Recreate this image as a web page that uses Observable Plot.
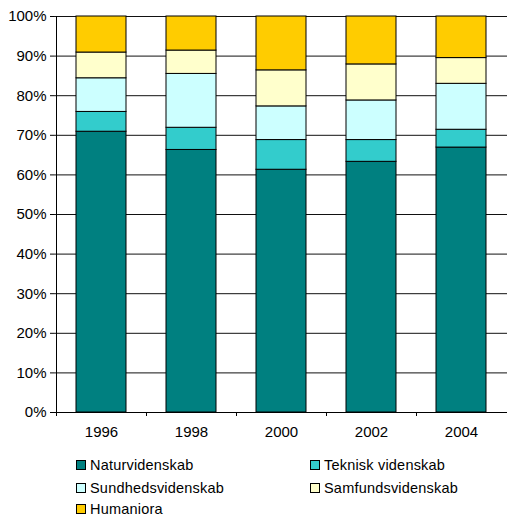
<!DOCTYPE html>
<html><head><meta charset="utf-8">
<script src="https://cdn.jsdelivr.net/npm/d3@7"></script>
<script src="https://cdn.jsdelivr.net/npm/@observablehq/plot@0.6"></script>
<style>
body{margin:0;background:#fff;font-family:"Liberation Sans",Arial,sans-serif;}
#wrap{position:relative;width:507px;height:517px;overflow:hidden}
.item{position:absolute;font-size:14.5px;line-height:14px;height:14px;color:#000;white-space:nowrap;display:flex;align-items:center;letter-spacing:0.2px}
.sw{width:8px;height:8px;border:1px solid #000;margin-right:4px;flex:none}
</style></head><body><div id="wrap"></div>
<script>
const years = ["1996","1998","2000","2002","2004"];
const fields = ["Naturvidenskab","Teknisk videnskab","Sundhedsvidenskab","Samfundsvidenskab","Humaniora"];
const colors = ["#008080","#33CCCC","#CCFFFF","#FFFFCC","#FFCC00"];
const natur = [70.9,66.3,61.3,63.3,66.9];
const teknisk = [5.0,5.6,7.5,5.5,4.5];
const sundhed = [8.5,13.6,8.5,10.0,11.6];
const samfund = [6.5,5.9,9.1,9.1,6.5];
const humaniora = [9.1,8.6,13.6,12.1,10.5];
const yTicks = [0,10,20,30,40,50,60,70,80,90,100];

const series = [natur, teknisk, sundhed, samfund, humaniora];
const data = [];
fields.forEach((f, i) => years.forEach((y, j) => data.push({year: y, field: f, value: series[i][j]})));

const chart = Plot.plot({
  width: 507, height: 448,
  marginLeft: 54, marginRight: 0, marginTop: 16, marginBottom: 36,
  style: {fontFamily: "'Liberation Sans', Arial, sans-serif", fontSize: "15px", background: "#fff", color: "#000"},
  x: {domain: years, paddingInner: 0.45, paddingOuter: 0.225, label: null, tickSize: 0, tickPadding: 14},
  y: {domain: [0, 100], ticks: yTicks, tickFormat: d => d + "%", label: null, tickSize: 4, tickPadding: 4},
  color: {domain: fields, range: colors},
  marks: [
    Plot.ruleY(yTicks, {stroke: "#111", strokeWidth: 1}),
    Plot.barY(data, Plot.stackY({x: "year", y: "value", fill: "field", order: null, stroke: "#000", strokeWidth: 1})),
    Plot.ruleY([0], {stroke: "#000"})
  ]
});

// axis lines and boundary ticks from the x scale
const sx = chart.scale("x");
const sy = chart.scale("y");
const svg = d3.select(chart);
const step = sx.step;
const g = svg.append("g").attr("stroke", "#000").attr("stroke-width", 1);
const left = Math.round(sx.apply(years[0]) - (step - sx.bandwidth) / 2);
g.append("line").attr("x1", left + 0.5).attr("x2", left + 0.5).attr("y1", sy.apply(100)).attr("y2", sy.apply(0) + 4);
years.forEach((y, i) => {
  if (i === 0) return;
  const bx = Math.round(sx.apply(y) - (step - sx.bandwidth) / 2) + 0.5;
  g.append("line").attr("x1", bx).attr("x2", bx).attr("y1", sy.apply(0)).attr("y2", sy.apply(0) + 4);
});

const wrap = document.getElementById("wrap");
wrap.appendChild(chart);

const pos = [[76, 465], [310, 465], [76, 488], [310, 488], [76, 509]];
fields.forEach((f, i) => {
  const d = document.createElement("div");
  d.className = "item";
  d.style.left = pos[i][0] + "px";
  d.style.top = (pos[i][1] - 7) + "px";
  const s = document.createElement("span");
  s.className = "sw";
  s.style.background = colors[i];
  d.appendChild(s);
  d.appendChild(document.createTextNode(f));
  wrap.appendChild(d);
});
</script></body></html>
